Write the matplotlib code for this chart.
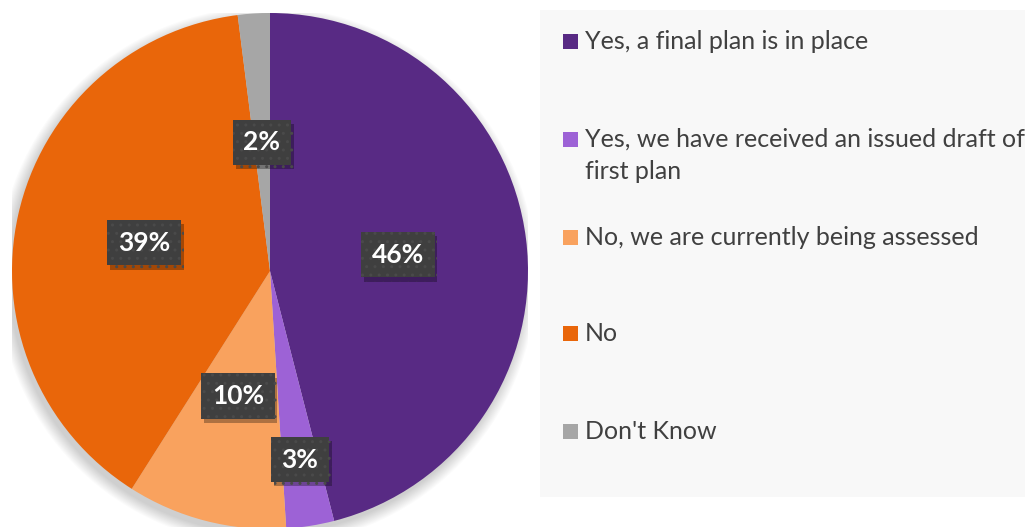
import numpy as np
import matplotlib
matplotlib.use("Agg")
import matplotlib.pyplot as plt
import matplotlib.patheffects as pe
from matplotlib.patches import Rectangle, Circle

# ======================================
categories = [
    "Yes, a final plan is in place",
    "Yes, we have received an issued draft of\nfirst plan",
    "No, we are currently being assessed",
    "No",
    "Don't Know",
]
shares = [46, 3, 10, 39, 2]
colors = ["#582a84", "#9d62d6", "#f9a25e", "#e9660a", "#a6a6a6"]
label_dist = [0.5, 0.74, 0.5, 0.5, 0.5]
# ======================================

plt.rcParams["font.family"] = ["Lato", "DejaVu Sans"]
plt.rcParams["hatch.color"] = "#4a4a4a"
plt.rcParams["hatch.linewidth"] = 1.0

W, H = 1025, 527
fig = plt.figure(figsize=(W / 100, H / 100), dpi=100)

# legend panel
fig.patches.append(Rectangle((540 / W, 1 - 497 / H), 1 - 540 / W, 487 / H,
                             transform=fig.transFigure, facecolor="#f8f8f8",
                             edgecolor="none", zorder=0))

ax = fig.add_axes([12 / W, -2 / H, 516 / W, 516 / H])

# soft shadow under the pie
for i in range(12):
    ax.add_patch(Circle((-0.012, -0.02), 1.0 + 0.004 * i, facecolor="#000000",
                        alpha=0.016, edgecolor="none", zorder=0))

wedges, _ = ax.pie(shares, colors=colors, startangle=90, counterclock=False,
                   radius=1, wedgeprops=dict(linewidth=0))
for w in wedges:
    w.set_zorder(2)

for w, val, d in zip(wedges, shares, label_dist):
    ang = np.deg2rad((w.theta1 + w.theta2) / 2)
    x, y = d * np.cos(ang), d * np.sin(ang)
    t = ax.text(x, y, f"{val}%", ha="center", va="center", fontsize=19,
                fontweight="bold", color="white", zorder=4,
                bbox=dict(boxstyle="square,pad=0.4", facecolor="#3f3f3f",
                          edgecolor="#4a4a4a", linewidth=0, hatch=".."))
    t.get_bbox_patch().set_path_effects([
        pe.SimplePatchShadow(offset=(2, -3), shadow_rgbFace="black", alpha=0.3),
        pe.Normal(),
    ])

ax.set_xlim(-1, 1)
ax.set_ylim(-1, 1)
ax.axis("off")

# legend entries (baseline y in pixels from top), wrapped lines 32 px apart
baselines = [49, 147, 245, 341, 439]
for lab, col, yb in zip(categories, colors, baselines):
    fig.patches.append(Rectangle((563 / W, 1 - yb / H), 15 / W, 15 / H,
                                 transform=fig.transFigure, facecolor=col,
                                 edgecolor="none"))
    for k, line in enumerate(lab.split("\n")):
        fig.text(585 / W, 1 - (yb + 32 * k) / H, line, ha="left",
                 va="baseline", fontsize=18, color="#404040")

fig.savefig("out.png", dpi=100)
